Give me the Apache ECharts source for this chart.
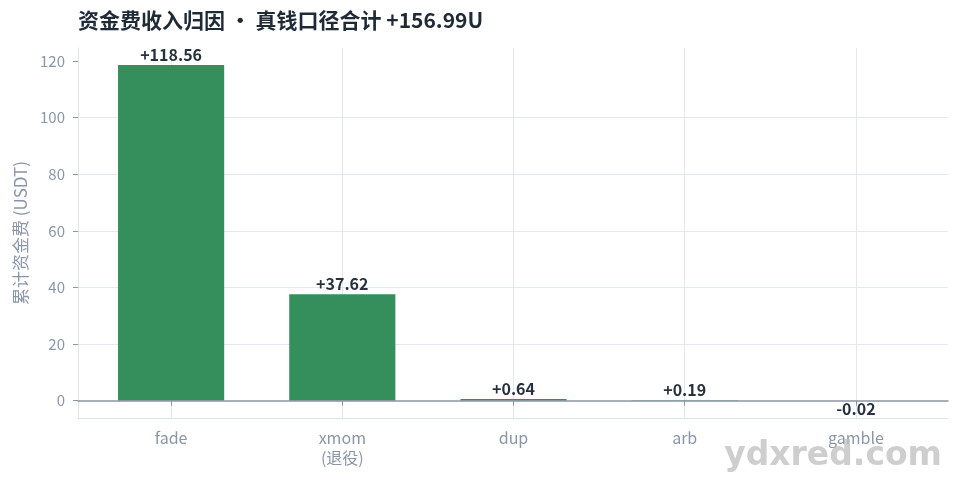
<!DOCTYPE html>
<html>
<head>
<meta charset="utf-8">
<script src="https://cdn.jsdelivr.net/npm/echarts@6/dist/echarts.min.js"></script>
<style>html,body{margin:0;padding:0;background:#fff;}#c{width:962px;height:480px;}</style>
</head>
<body>
<div id="c"></div>
<script>
var categories = ['fade', 'xmom\n(退役)', 'dup', 'arb', 'gamble'];
var values = [118.56, 37.62, 0.64, 0.19, -0.02];
var yTicks = [0, 20, 40, 60, 80, 100, 120];
var titleText = '资金费收入归因 · 真钱口径合计 +156.99U';
var yName = '累计资金费 (USDT)';
var watermark = 'ydxred.com';

var FONT = '"Noto Sans CJK SC", "Noto Sans", sans-serif';
var GRAY = '#8a96a8';
var GRID = '#e3e8f0';
var YMIN = -6.1, YMAX = 124.6;

var chart = echarts.init(document.getElementById('c'), null, {renderer: 'canvas'});
chart.setOption({
  backgroundColor: '#ffffff',
  animation: false,
  textStyle: {fontFamily: FONT},
  title: {
    text: titleText, left: 73, top: 5,
    textStyle: {fontFamily: FONT, fontSize: 21, fontWeight: 'bold', color: '#1f2a37'}
  },
  grid: [
    {left: 78, top: 48, width: 870, height: 370, containLabel: false},
    {left: 85.5, top: 48, width: 856, height: 370, containLabel: false}
  ],
  xAxis: [
    {gridIndex: 0, type: 'value', min: 0, max: 1, position: 'bottom',
     axisLine: {show: true, onZero: false, lineStyle: {color: '#dde3ec', width: 1}},
     axisTick: {show: false}, axisLabel: {show: false}, splitLine: {show: false}},
    {gridIndex: 0, type: 'value', min: 0, max: 1, position: 'top',
     axisLine: {show: true, onZero: true, lineStyle: {color: '#8c95a0', width: 1.5}},
     axisTick: {show: false}, axisLabel: {show: false}, splitLine: {show: false}, z: 5},
    {gridIndex: 1, type: 'category', data: categories, boundaryGap: true,
     axisLine: {show: false},
     axisTick: {show: true, alignWithLabel: true, length: 5, lineStyle: {color: '#8c95a0'}},
     splitLine: {show: true, alignWithLabel: true, lineStyle: {color: GRID, width: 1}},
     axisLabel: {color: GRAY, fontSize: 16, margin: 10, fontFamily: FONT, lineHeight: 20}}
  ],
  yAxis: [
    {gridIndex: 0, type: 'value', min: YMIN, max: YMAX,
     name: yName, nameLocation: 'middle', nameRotate: 90, nameGap: 49,
     nameTextStyle: {color: GRAY, fontSize: 17, fontFamily: FONT},
     axisLine: {show: true, onZero: false, lineStyle: {color: '#dde3ec', width: 1}},
     axisTick: {show: true, length: 5, customValues: yTicks, lineStyle: {color: '#8c95a0'}},
     axisLabel: {color: GRAY, fontSize: 15, margin: 13, customValues: yTicks, fontFamily: FONT},
     splitLine: {show: true, showMinLine: false, showMaxLine: false, lineStyle: {color: GRID, width: 1}}},
    {gridIndex: 1, type: 'value', min: YMIN, max: YMAX, show: false,
     splitLine: {show: false}}
  ],
  series: [{
    type: 'bar', xAxisIndex: 2, yAxisIndex: 1,
    barWidth: '62%',
    itemStyle: {color: '#2e8b57', opacity: 0.97},
    data: values.map(function (v) {
      return {value: v, label: {position: v < 0 ? 'bottom' : 'top', distance: v < 0 ? 0 : 2}};
    }),
    label: {
      show: true, fontSize: 16, fontWeight: 'bold', color: '#1f2a37', fontFamily: FONT,
      formatter: function (p) { return (p.value >= 0 ? '+' : '') + p.value.toFixed(2); }
    }
  }],
  graphic: [{
    type: 'text', right: 20, bottom: 7, z: 100,
    style: {
      text: watermark, fill: 'rgba(190,190,190,0.75)',
      font: 'bold 33px "DejaVu Sans", sans-serif',
      shadowColor: 'rgba(0,0,0,0.25)', shadowBlur: 2, shadowOffsetX: 1, shadowOffsetY: 1
    }
  }]
});
</script>
</body>
</html>
